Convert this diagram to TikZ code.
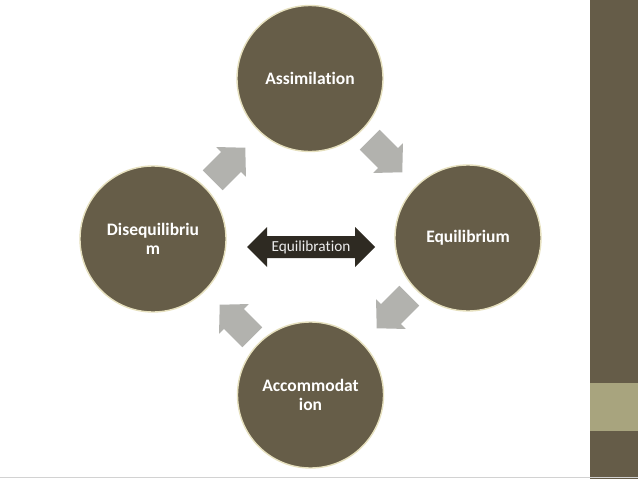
\documentclass[tikz,border=0pt]{standalone}
\usepackage{fontspec}
\setmainfont[Ligatures=NoCommon,RawFeature={-liga;-dlig;-clig}]{Carlito}
\definecolor{circfill}{HTML}{665D48}
\definecolor{circborder}{HTML}{E6E0BE}
\definecolor{arrowgray}{HTML}{B2B2AE}
\definecolor{darkarrow}{HTML}{2E2A22}
\definecolor{sidebar}{HTML}{655C48}
\definecolor{sideband}{HTML}{A8A47E}
\definecolor{eqtext}{HTML}{EDEDED}
\tikzset{
  stage/.style={circle, fill=circfill, draw=circborder, line width=1.4pt,
    minimum size=146pt, inner sep=0pt, text=white, align=center,
    font=\bfseries\fontsize{17.5}{19.5}\selectfont},
  cyclearrow/.pic={\fill[arrowgray] (-23,-14) -- (3,-14) -- (3,-21) -- (23,0) -- (3,21) -- (3,14) -- (-23,14) -- cycle;},
  eqlabel/.style={text=eqtext, font=\fontsize{15.3}{18}\selectfont, inner sep=0pt}
}
\begin{document}
\begin{tikzpicture}[x=1pt,y=-1pt]
\useasboundingbox (0,0) rectangle (638,479);
\fill[white] (0,0) rectangle (638,479);
% side bar
\fill[sidebar] (590,0) rectangle (638,479);
\fill[sideband] (590,383) rectangle (638,431);
\fill[gray!35] (0,477) rectangle (638,478);
% stages
\node[stage] (assim) at (310,78.5) {Assimilation};
\node[stage] (equil) at (468,238) {Equilibrium};
\node[stage] (accom) at (310.5,395) {Accommodat\\ion};
\node[stage] (diseq) at (153,239) {Disequilibriu\\m};
% cycle arrows
\pic[rotate=-45] at (386,156) {cyclearrow};
\pic[rotate=-135] at (393,312) {cyclearrow};
\pic[rotate=135] at (236,321) {cyclearrow};
\pic[rotate=45] at (229,164) {cyclearrow};
% double arrow
\fill[darkarrow] (247,247) -- (267,227) -- (267,236) -- (355,236) -- (355,227)
  -- (375,247) -- (355,267) -- (355,258) -- (267,258) -- (267,267) -- cycle;
\node[eqlabel] (eq) at (311,247) {Equilibration};
\end{tikzpicture}
\end{document}
